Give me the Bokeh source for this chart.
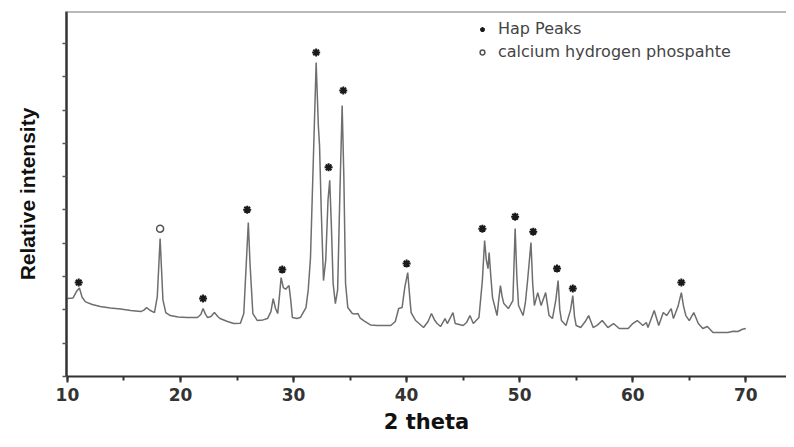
from bokeh.plotting import figure
from bokeh.models import Range1d, FixedTicker, SingleIntervalTicker, Legend, LegendItem, Span
from bokeh.embed import file_html
from bokeh.resources import INLINE

# XRD pattern (2 theta, relative intensity)
two_theta = [10.0, 10.5, 10.8, 11.06, 11.3, 11.6, 12.2, 12.9, 13.8, 14.7, 15.6, 16.5, 16.8, 17.0, 17.3, 17.7,
             17.95, 18.2, 18.45, 18.7, 19.1, 19.8, 20.6, 21.5, 21.8, 22.0, 22.2, 22.4, 22.7, 23.0, 23.3, 23.5,
             24.1, 24.7, 25.3, 25.6, 25.85, 26.0, 26.15, 26.4, 26.8, 27.3, 27.7, 28.0, 28.2, 28.4, 28.6, 28.75,
             28.9, 29.1, 29.3, 29.6, 29.75, 29.9, 30.3, 30.6, 31.1, 31.3, 31.5, 31.75, 32.0, 32.2, 32.3, 32.45,
             32.65, 32.85, 33.05, 33.2, 33.35, 33.5, 33.7, 33.9, 34.1, 34.3, 34.45, 34.6, 34.8, 35.2, 35.5, 35.7,
             35.9, 36.2, 36.8, 37.4, 38.6, 39.0, 39.3, 39.6, 39.85, 40.1, 40.3, 40.4, 40.8, 41.5, 41.9, 42.2,
             42.5, 42.7, 43.0, 43.4, 43.6, 43.85, 44.1, 44.3, 45.0, 45.3, 45.6, 45.9, 46.4, 46.7, 46.9, 47.05,
             47.2, 47.3, 47.45, 47.6, 48.0, 48.15, 48.3, 48.45, 48.6, 49.0, 49.4, 49.6, 49.75, 49.9, 50.3, 50.5,
             50.7, 51.0, 51.15, 51.3, 51.6, 51.9, 52.3, 52.6, 52.9, 53.2, 53.4, 53.55, 53.7, 54.1, 54.5, 54.7,
             54.85, 55.0, 55.4, 55.8, 56.1, 56.5, 56.9, 57.3, 57.8, 58.3, 58.8, 59.6, 60.0, 60.4, 60.9, 61.2,
             61.35, 61.9, 62.3, 62.7, 63.0, 63.4, 63.6, 64.0, 64.3, 64.5, 64.7, 65.0, 65.4, 65.8, 66.2, 66.6,
             67.1, 68.4, 68.9, 69.3, 69.7, 70.0]
intensity = [2.34, 2.36, 2.55, 2.66, 2.38, 2.24, 2.16, 2.10, 2.06, 2.03, 1.98, 1.95, 2.00, 2.07, 1.99, 1.92,
             2.40, 4.14, 2.30, 1.92, 1.83, 1.79, 1.77, 1.77, 1.86, 2.04, 1.88, 1.77, 1.80, 1.92, 1.80, 1.74,
             1.66, 1.59, 1.60, 1.89, 3.60, 4.62, 3.40, 1.89, 1.68, 1.70, 1.74, 1.95, 2.34, 2.05, 1.89, 2.40,
             2.97, 2.67, 2.62, 2.73, 2.30, 1.77, 1.74, 1.77, 2.07, 2.60, 3.57, 6.50, 9.43, 7.50, 6.94, 5.00,
             2.88, 3.50, 5.30, 5.89, 4.50, 2.80, 2.19, 2.60, 5.50, 8.14, 6.00, 2.80, 2.07, 1.89, 1.88, 1.89,
             1.75, 1.68, 1.55, 1.53, 1.53, 1.65, 2.04, 2.07, 2.70, 3.12, 2.30, 1.92, 1.68, 1.47, 1.65, 1.89,
             1.68, 1.59, 1.50, 1.74, 1.59, 1.75, 1.92, 1.59, 1.53, 1.62, 1.83, 1.59, 1.77, 2.88, 4.08, 3.50,
             3.24, 3.72, 3.00, 2.37, 1.83, 2.30, 2.73, 2.40, 2.19, 2.04, 2.28, 4.44, 3.00, 2.13, 1.83, 2.20,
             2.88, 4.02, 2.80, 2.13, 2.52, 2.13, 2.52, 1.83, 1.74, 2.30, 2.88, 2.00, 1.68, 1.53, 2.00, 2.43,
             1.80, 1.53, 1.47, 1.65, 1.83, 1.47, 1.55, 1.68, 1.47, 1.59, 1.44, 1.44, 1.59, 1.68, 1.53, 1.62,
             1.47, 1.98, 1.53, 1.92, 1.83, 2.04, 1.74, 2.10, 2.52, 2.10, 1.83, 1.68, 1.92, 1.59, 1.44, 1.50,
             1.32, 1.32, 1.36, 1.35, 1.42, 1.44]

# Peak markers
hap_x = [11.0, 22.0, 25.9, 29.0, 32.0, 33.1, 34.4, 40.0, 46.7, 49.6, 51.2, 53.3, 54.7, 64.3]
hap_y = [2.82, 2.34, 5.01, 3.21, 9.73, 6.28, 8.59, 3.39, 4.44, 4.80, 4.35, 3.24, 2.64, 2.82]
chp_x = [18.2]
chp_y = [4.44]

y_ticks = [0, 1, 2, 3, 4, 5, 6, 7, 8, 9, 10]
y_top = 10.96

p = figure(width=786, height=439, output_backend="svg", toolbar_location=None,
           x_range=Range1d(9.92, 73.6), y_range=Range1d(0, y_top),
           min_border_left=66, min_border_right=0, min_border_top=11, min_border_bottom=63)
p.background_fill_color = "white"
p.border_fill_color = "white"
p.outline_line_color = None
p.grid.visible = False

p.add_layout(Span(location=y_top, dimension="width", line_color="#777777", line_width=2))

p.line(two_theta, intensity, line_color="#6e6e6e", line_width=1.5)
r_hap = p.scatter(hap_x, hap_y, marker="asterisk", size=8, line_color="#1a1a1a", line_width=2)
r_chp = p.scatter(chp_x, chp_y, marker="circle", size=7, fill_color=None, line_color="#555555", line_width=1.5)

legend = Legend(items=[LegendItem(label="Hap Peaks", renderers=[r_hap]),
                       LegendItem(label="calcium hydrogen phospahte", renderers=[r_chp])],
                location=(410, 315), border_line_color=None, background_fill_alpha=0,
                label_text_font="DejaVu Sans", label_text_font_size="16px", label_text_color="#444444",
                glyph_width=12, glyph_height=18, label_height=18, spacing=4, padding=0, margin=0,
                label_standoff=10)
p.add_layout(legend)

xa = p.xaxis[0]
xa.ticker = SingleIntervalTicker(interval=10, num_minor_ticks=2)
xa.axis_line_color = "#333333"
xa.axis_line_width = 2
xa.major_tick_line_color = "#333333"
xa.major_tick_line_width = 2
xa.major_tick_in = 0
xa.major_tick_out = 6
xa.minor_tick_line_color = "#333333"
xa.minor_tick_line_width = 2
xa.minor_tick_in = 0
xa.minor_tick_out = 4
xa.major_label_text_font = "DejaVu Sans"
xa.major_label_text_font_style = "bold"
xa.major_label_text_font_size = "17px"
xa.major_label_text_color = "#333333"
xa.major_label_standoff = 5
xa.axis_label = "2 theta"
xa.axis_label_text_font = "DejaVu Sans"
xa.axis_label_text_font_style = "bold"
xa.axis_label_text_font_size = "21px"
xa.axis_label_text_color = "#111111"
xa.axis_label_standoff = 6

ya = p.yaxis[0]
ya.ticker = FixedTicker(ticks=[], minor_ticks=y_ticks)
ya.axis_line_color = "#333333"
ya.axis_line_width = 2.5
ya.major_tick_line_color = None
ya.minor_tick_line_color = "#555555"
ya.minor_tick_line_width = 1.5
ya.minor_tick_in = 0
ya.minor_tick_out = 4
ya.axis_label = "Relative intensity"
ya.axis_label_text_font = "Liberation Sans"
ya.axis_label_text_font_style = "bold"
ya.axis_label_text_font_size = "21px"
ya.axis_label_text_color = "#111111"
ya.axis_label_standoff = 24

open("out.html", "w").write(file_html(p, INLINE))
